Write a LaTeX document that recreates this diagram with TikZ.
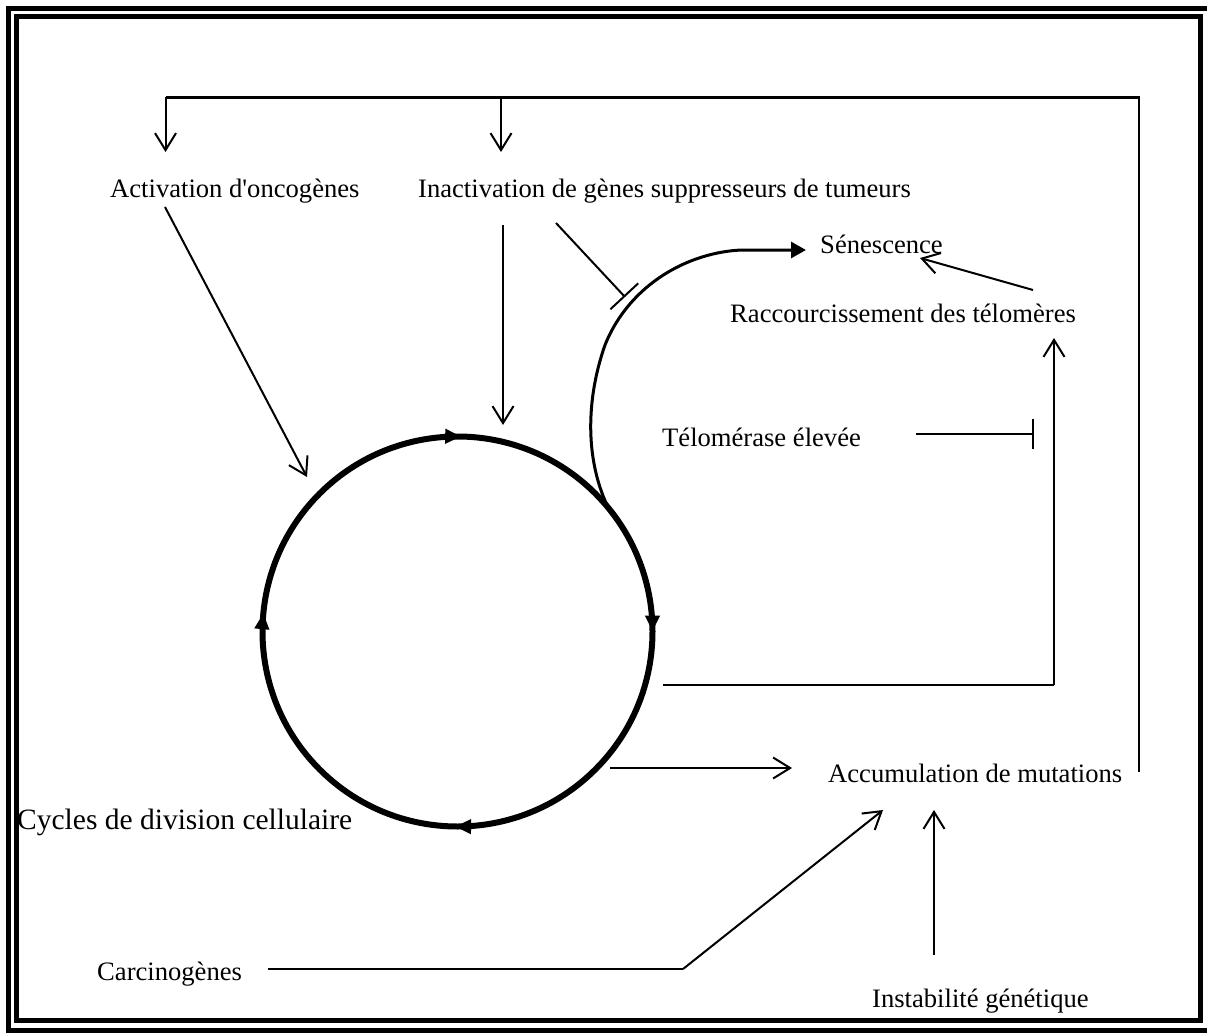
\documentclass[tikz,border=0pt]{standalone}
\usepackage{fontspec}
\setmainfont{Liberation Serif}[Ligatures=TeXOff]
\usetikzlibrary{arrows.meta,decorations.markings}

\begin{document}
\begin{tikzpicture}[x=1pt,y=-1pt,
  lbl/.style={anchor=base west,inner sep=0pt,font=\fontsize{26.6}{32}\selectfont},
  conn/.style={line width=2pt},
  act/.style={conn,-{Straight Barb[length=17pt,width=21pt,line width=2pt]}},
  inh/.style={conn,-{Bar[width=#1,line width=2pt]}},
  inh/.default=36pt,
  ringmark/.style={decoration={markings,
      mark=at position 0.127 with {\arrow{Triangle[length=16pt,width=14pt]}},
      mark=at position 0.39 with {\arrow{Triangle[length=16pt,width=14pt]}},
      mark=at position 0.628 with {\arrow{Triangle[length=16pt,width=14pt]}},
      mark=at position 0.875 with {\arrow{Triangle[length=16pt,width=14pt]}}},
    postaction={decorate}},
  frameline/.style={line width=5pt}
]
\useasboundingbox (0,0) rectangle (1207,1035);

% double frame
\draw[frameline] (8.5,8.5) rectangle (1210,1030.5);
\draw[frameline] (16.5,16.5) rectangle (1200.5,1020.5);

% labels
\node[lbl] (onc)  at (110,198)  {Activation d'oncogènes};
\node[lbl] (tsg)  at (418,198)  {Inactivation de gènes suppresseurs de tumeurs};
\node[lbl] (sen)  at (820,253)  {Sénescence};
\node[lbl] (tel)  at (730,322)  {Raccourcissement des télomères};
\node[lbl] (tase) at (662,446)  {Télomérase élevée};
\node[lbl] (mut)  at (828,782)  {Accumulation de mutations};
\node[lbl,font=\fontsize{29.5}{36}\selectfont] (cyc) at (17,829) {Cycles de division cellulaire};
\node[lbl] (carc) at (97,980)   {Carcinogènes};
\node[lbl] (inst) at (872,1007) {Instabilité génétique};

% cell division cycle (drawn clockwise)
\coordinate (ring) at (457.5,631.5);
\draw[line width=6pt,ringmark] (ring) ++(45:195) arc[start angle=45,end angle=405,radius=195];

% connector end points
\coordinate (fbR)    at (1139,772);
\coordinate (fbTR)   at (1139,97.5);
\coordinate (fbTL)   at (165.5,97.5);
\coordinate (fbL)    at (165.5,152);
\coordinate (fbMs)   at (501,99);
\coordinate (fbM)    at (501,152);
\coordinate (oncS)   at (165,207);
\coordinate (oncE)   at (307,477);
\coordinate (tsgS)   at (503,225);
\coordinate (tsgE)   at (503,425);
\coordinate (inhS)   at (556,223);
\coordinate (inhE)   at (625,297);
\coordinate (senS)   at (612,515);
\coordinate (senE)   at (806,250);
\coordinate (telS)   at (1033,290);
\coordinate (telE)   at (920,258);
\coordinate (taseS)  at (916,434);
\coordinate (taseE)  at (1034,434);
\coordinate (ringT)  at (663,685);
\coordinate (ringTc) at (1054,685);
\coordinate (telB)   at (1054,338);
\coordinate (ringM)  at (610,768);
\coordinate (mutW)   at (792,768);
\coordinate (carcE)  at (268,969);
\coordinate (carcK)  at (683,969);
\coordinate (mutSW)  at (883,810);
\coordinate (instN)  at (934,955);
\coordinate (mutS)   at (934,810);

% feedback from accumulated mutations
\draw[conn,line width=2.5pt] (fbR) -- (fbTR) -- (fbTL);
\draw[act] (fbTL) -- (fbL);
\draw[act] (fbMs) -- (fbM);

% inputs to the cycle
\draw[act] (oncS) -- (oncE);
\draw[act] (tsgS) -- (tsgE);
\draw[inh=38pt] (inhS) -- (inhE);

% exit to senescence
\draw[line width=3pt,-{Triangle[length=15pt,width=16pt]}]
  (senS) .. controls (586,468) and (584,405) .. (605,345)
         .. controls (630,283) and (690,252) .. (742,250) -- (senE);

% telomere shortening
\draw[act] (telS) -- (telE);
\draw[inh=30pt] (taseS) -- (taseE);
\draw[conn] (ringT) -- (ringTc);
\draw[act] (ringTc) -- (telB);

% towards accumulated mutations
\draw[act] (ringM) -- (mutW);
\draw[conn] (carcE) -- (carcK);
\draw[act] (carcK) -- (mutSW);
\draw[act] (instN) -- (mutS);
\end{tikzpicture}
\end{document}
